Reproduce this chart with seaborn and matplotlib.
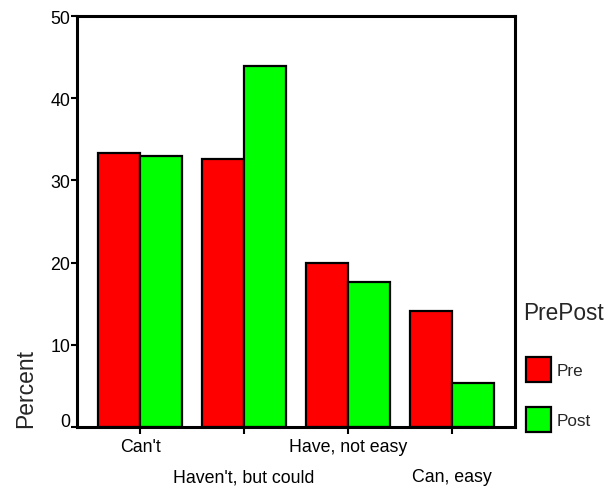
import matplotlib
matplotlib.use("Agg")
import matplotlib.pyplot as plt
from matplotlib.patches import Patch
from matplotlib.transforms import ScaledTranslation
import seaborn as sns
import pandas as pd

categories = ["Can't", "Haven't, but could", "Have, not easy", "Can, easy"]
groups = ["Pre", "Post"]
pre_values = [33.3, 32.6, 20.0, 14.1]
post_values = [33.0, 43.9, 17.7, 5.4]
colors = {"Pre": "#FF0000", "Post": "#00FF00"}
yticks = [0, 10, 20, 30, 40, 50]

df = pd.DataFrame({
    "Category": categories * 2,
    "PrePost": ["Pre"] * 4 + ["Post"] * 4,
    "Percent": pre_values + post_values,
})

sns.set_style("white")
plt.rcParams["font.family"] = ["Liberation Sans", "DejaVu Sans"]

fig = plt.figure(figsize=(6.13, 4.89), dpi=100)
ax = fig.add_axes([77 / 613, 1 - 428 / 489, 438 / 613, 411 / 489])

sns.barplot(data=df, x="Category", y="Percent", hue="PrePost",
            order=categories, hue_order=groups, palette=colors,
            saturation=1, width=0.81, edgecolor="black", linewidth=1.6,
            legend=False, ax=ax)

ax.set_xlim(-0.61, 3.61)
ax.set_ylim(0, 50)
ax.set_yticks(yticks)
ax.set_yticklabels([str(v) for v in yticks])
ax.set_xlabel("")
ax.set_ylabel("Percent", fontsize=16.5, loc="bottom")
ax.yaxis.set_label_coords(-0.092, 0)

for s in ax.spines.values():
    s.set_visible(True)
    s.set_linewidth(2.2)
    s.set_color("black")

ax.tick_params(axis="x", length=5, width=1.5, direction="out", pad=3,
               labelsize=12.8, colors="black", bottom=True)
ax.tick_params(axis="y", length=4, width=1.5, direction="out", pad=1,
               labelsize=12.8, colors="black", left=True)

for i, t in enumerate(ax.xaxis.get_major_ticks()):
    if i % 2 == 1:
        t.set_pad(3 + 21.6)

# raise the "0" label slightly as in the reference
lbl0 = ax.get_yticklabels()[0]
lbl0.set_transform(lbl0.get_transform() + ScaledTranslation(0, 7 / 100, fig.dpi_scale_trans))

# legend
fig.text(523 / 613, 1 - 313 / 489, "PrePost", fontsize=16.3, va="center", ha="left")
handles = [Patch(facecolor=colors[g], edgecolor="black", linewidth=1.6) for g in groups]
fig.legend(handles, groups, loc="upper left",
           bbox_to_anchor=(526 / 613, 1 - 358 / 489), frameon=False,
           fontsize=12.3, handlelength=1.45, handleheight=1.83,
           labelspacing=1.5, handletextpad=0.32,
           borderpad=0, borderaxespad=0)

fig.savefig("out.png", dpi=100)
